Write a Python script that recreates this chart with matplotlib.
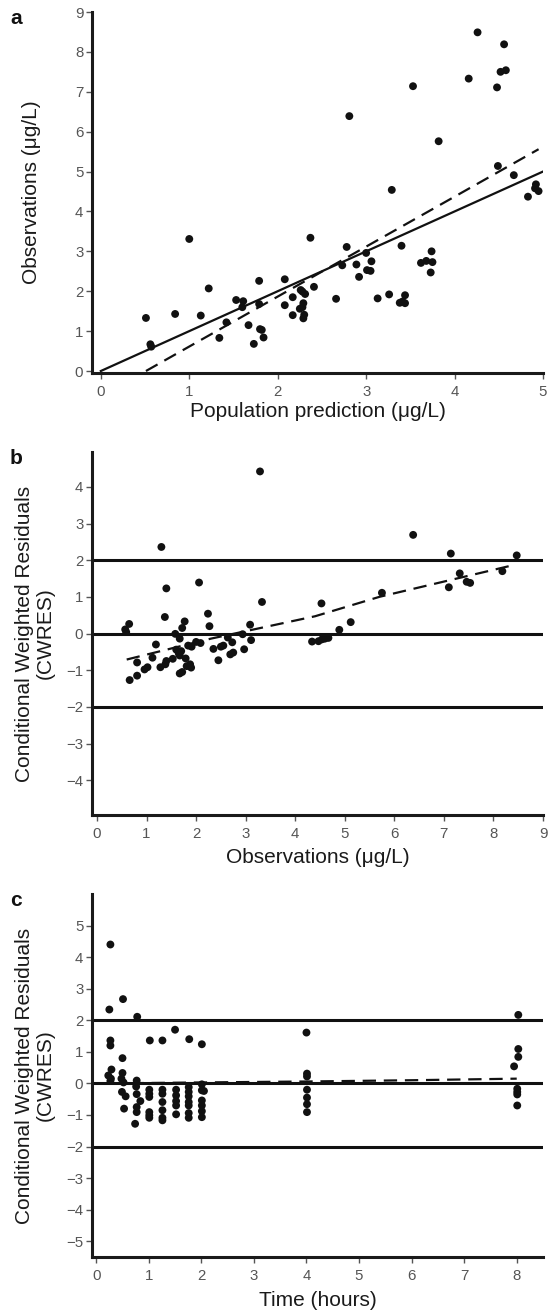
import matplotlib
matplotlib.use("Agg")
import matplotlib.pyplot as plt
import numpy as np

plt.rcParams['font.family'] = ['Liberation Sans', 'DejaVu Sans']

# panel a: population prediction vs observations
pred = [4.26, 4.56, 3.53, 4.16, 4.48, 4.52, 4.58, 2.81, 3.82, 4.49, 4.67, 3.29,
        4.92, 4.91, 4.95, 4.83, 1.00, 2.37, 2.78, 3.40, 3.74, 3.62, 3.68, 3.75,
        3.73, 3.00, 3.06, 2.73, 2.89, 3.01, 3.05, 2.92, 1.79, 2.08, 1.22, 2.41,
        2.26, 2.28, 2.31, 2.17, 2.66, 3.13, 3.26, 3.44, 3.38, 3.44, 3.41, 1.53,
        1.61, 1.60, 1.79, 2.08, 2.29, 2.25, 2.28, 2.17, 2.30, 2.29, 0.51, 0.84,
        1.13, 1.42, 1.67, 1.80, 1.82, 1.84, 1.34, 1.73, 0.56, 0.57]
obs = [8.49, 8.19, 7.14, 7.33, 7.11, 7.50, 7.54, 6.39, 5.76, 5.14, 4.91, 4.54,
       4.68, 4.58, 4.51, 4.37, 3.31, 3.34, 3.11, 3.14, 3.00, 2.71, 2.76, 2.73,
       2.47, 2.96, 2.75, 2.65, 2.67, 2.53, 2.51, 2.36, 2.26, 2.30, 2.07, 2.11,
       2.03, 1.99, 1.93, 1.85, 1.81, 1.82, 1.92, 1.90, 1.71, 1.70, 1.74, 1.78,
       1.75, 1.60, 1.68, 1.65, 1.70, 1.56, 1.60, 1.40, 1.41, 1.32, 1.33, 1.43,
       1.39, 1.22, 1.15, 1.05, 1.03, 0.84, 0.83, 0.68, 0.67, 0.61]
identity_x = [0, 5]
identity_y = [0, 5]
fit_x = [0.51, 4.95]
fit_y = [0.0, 5.56]

# panel b: observations vs CWRES
obs_b = [3.29, 1.30, 6.38, 7.14, 8.47, 1.40, 2.06, 3.33, 4.53, 5.75, 7.10, 7.32,
         7.46, 7.53, 8.18, 2.24, 1.37, 0.57, 0.59, 0.65, 1.77, 1.72, 2.27, 1.58,
         1.67, 3.09, 2.94, 2.64, 2.73, 3.11, 5.12, 4.89, 4.34, 4.47, 4.54, 4.60,
         4.67, 1.19, 1.12, 0.81, 0.66, 0.81, 0.96, 1.02, 1.28, 1.38, 1.40, 1.53,
         1.65, 1.60, 1.67, 1.70, 1.79, 1.81, 1.90, 1.88, 1.67, 1.72, 1.84, 1.91,
         2.00, 2.09, 2.35, 2.45, 2.50, 2.55, 2.69, 2.75, 2.97]
cwres_b = [4.42, 2.36, 2.69, 2.18, 2.13, 1.23, 1.39, 0.86, 0.82, 1.11, 1.26, 1.64,
           1.41, 1.38, 1.70, 0.54, 0.45, 0.11, 0.04, 0.26, 0.33, 0.15, 0.20, -0.01,
           -0.14, 0.24, -0.02, -0.11, -0.24, -0.18, 0.31, 0.10, -0.22, -0.21, -0.16, -0.14,
           -0.12, -0.30, -0.66, -0.79, -1.27, -1.15, -0.98, -0.92, -0.92, -0.84, -0.75, -0.69,
           -0.54, -0.44, -0.60, -0.48, -0.68, -0.89, -0.93, -0.84, -1.09, -1.05, -0.33, -0.36,
           -0.23, -0.26, -0.42, -0.73, -0.36, -0.33, -0.57, -0.52, -0.43]
smooth_b_x = [0.6, 2.3, 4.4, 5.7, 8.45]
smooth_b_y = [-0.71, -0.14, 0.47, 1.0, 1.88]

# panel c: time vs CWRES
time_c = [0.27, 0.25, 0.51, 0.78, 0.27, 0.27, 0.50, 1.02, 1.26, 1.50, 1.77, 2.01,
          4.00, 8.03, 8.03, 8.03, 7.95, 0.29, 0.23, 0.28, 0.27, 0.50, 0.48, 0.52,
          0.49, 0.56, 0.53, 0.77, 0.76, 0.77, 0.84, 0.77, 0.77, 0.74,
          1.01, 1.01, 1.01, 1.01, 1.01, 1.01,
          1.26, 1.26, 1.26, 1.26, 1.26, 1.26,
          1.52, 1.52, 1.52, 1.52, 1.52,
          1.76, 1.76, 1.76, 1.76, 1.76, 1.76, 1.76,
          2.01, 2.01, 2.05, 2.01, 2.01, 2.01, 2.01,
          4.01, 4.01, 4.01, 4.01, 4.01, 4.01,
          8.01, 8.01, 8.01, 8.01]
cwres_c = [4.40, 2.34, 2.67, 2.11, 1.36, 1.20, 0.80, 1.36, 1.36, 1.70, 1.40, 1.24,
           1.61, 2.17, 1.09, 0.84, 0.54, 0.44, 0.25, 0.15, 0.08, 0.33, 0.15, 0.03,
           -0.27, -0.41, -0.80, 0.09, -0.10, -0.34, -0.56, -0.75, -0.91, -1.28,
           -0.20, -0.33, -0.43, -0.91, -1.01, -1.09,
           -0.20, -0.33, -0.59, -0.85, -1.09, -1.17,
           -0.20, -0.38, -0.56, -0.70, -0.98,
           -0.12, -0.27, -0.41, -0.59, -0.70, -0.94, -1.09,
           -0.03, -0.22, -0.24, -0.54, -0.70, -0.88, -1.07,
           0.31, 0.22, -0.20, -0.45, -0.66, -0.91,
           -0.17, -0.27, -0.35, -0.70]
smooth_c_x = [0.25, 2, 4, 6, 8]
smooth_c_y = [0.0, 0.03, 0.06, 0.10, 0.15]

W, H = 549, 1313
LEFT, RIGHT = 92, 543
fig = plt.figure(figsize=(W / 100, H / 100), dpi=100)


def make_axes(top, bottom):
    ax = fig.add_axes([LEFT / W, 1 - bottom / H, (RIGHT - LEFT) / W, (bottom - top) / H])
    for s in ['top', 'right']:
        ax.spines[s].set_visible(False)
    for s in ['left', 'bottom']:
        ax.spines[s].set_linewidth(2.2)
        ax.spines[s].set_color('#1a1a1a')
    ax.tick_params(direction='out', length=4.3, width=1, colors='#555555',
                   labelcolor='#555555', labelsize=10.8, pad=2)
    ax.tick_params(axis='x', pad=4)
    return ax


def labels(ax, xtext, xy, ytext, yx):
    ax.set_xlabel(xtext, fontsize=15, color='#1a1a1a', va='center')
    ax.xaxis.set_label_coords(0.5, xy)
    ax.set_ylabel(ytext, fontsize=15, color='#1a1a1a', va='center',
                  linespacing=1.1)
    ax.yaxis.set_label_coords(yx, 0.5)


dot = dict(s=32, color='#111111', edgecolors='none', zorder=3, clip_on=False)

ax1 = make_axes(12, 373)
ax1.scatter(pred, obs, **dot)
ax1.plot(identity_x, identity_y, color='#111111', lw=1.6)
ax1.plot(fit_x, fit_y, color='#111111', lw=1.6, dashes=(6, 3.5))
ax1.set_xlim(-0.1, 5)
ax1.set_ylim(-0.05, 9)
ax1.set_xticks(range(0, 6))
ax1.set_yticks(range(0, 10))
labels(ax1, 'Population prediction (\u03bcg/L)', -0.108,
       'Observations (\u03bcg/L)', (31.5 - LEFT) / (RIGHT - LEFT))

ax2 = make_axes(452, 815)
for h in (2, 0, -2):
    ax2.axhline(h, color='#111111', lw=2.2, zorder=2)
ax2.scatter(obs_b, cwres_b, **dot)
ax2.plot(smooth_b_x, smooth_b_y, color='#111111', lw=1.6, dashes=(6, 3.5))
ax2.set_xlim(-0.1, 9)
ax2.set_ylim(-4.95, 4.95)
ax2.set_xticks(range(0, 10))
ax2.set_yticks(range(-4, 5))
labels(ax2, 'Observations (\u03bcg/L)', -0.116,
       'Conditional Weighted Residuals\n(CWRES)', (35 - LEFT) / (RIGHT - LEFT))

ax3 = make_axes(894, 1257)
for h in (2, 0, -2):
    ax3.axhline(h, color='#111111', lw=2.2, zorder=2)
ax3.scatter(time_c, cwres_c, **dot)
ax3.plot(smooth_c_x, smooth_c_y, color='#111111', lw=1.6, dashes=(6, 3.5))
ax3.set_xlim(-0.08, 8.5)
ax3.set_ylim(-5.5, 6.0)
ax3.set_xticks(range(0, 9))
ax3.set_yticks(range(-5, 6))
labels(ax3, 'Time (hours)', -0.1185,
       'Conditional Weighted Residuals\n(CWRES)', (35 - LEFT) / (RIGHT - LEFT))

for letter, y in (('a', 18), ('b', 458), ('c', 900)):
    fig.text(10 / W, 1 - y / H, letter, fontsize=15, fontweight='bold',
             ha='left', va='center', color='#111111')

fig.savefig('out.png', dpi=100)
